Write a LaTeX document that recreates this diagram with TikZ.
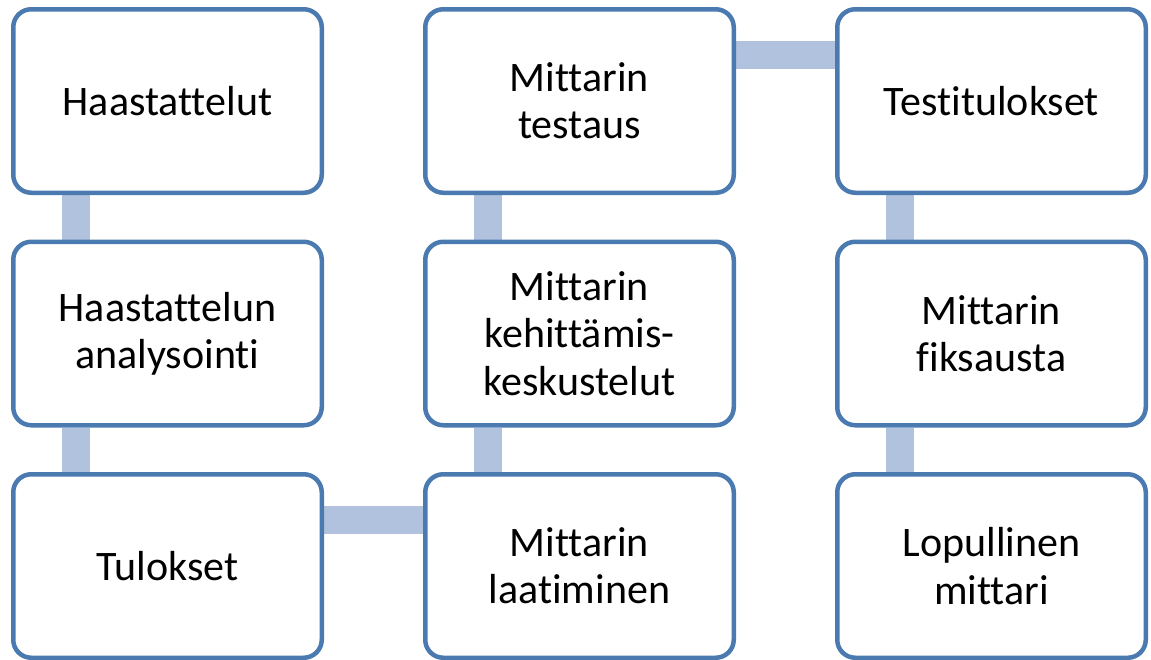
\documentclass[tikz,border=0pt]{standalone}
\usepackage{fontspec}
\setmainfont[Ligatures={NoCommon}]{Carlito}
\usepackage{tikz}
\usetikzlibrary{positioning, backgrounds}
\definecolor{boxblue}{RGB}{74,122,176}
\definecolor{barblue}{RGB}{176,194,221}
\tikzset{
  stage/.style={draw=boxblue, line width=2.25pt, fill=white, rounded corners=9pt,
    minimum width=154.25pt, minimum height=91.75pt, inner sep=0pt, align=center,
    font=\fontsize{21}{23.6}\selectfont},
  link/.style={draw=barblue, line width=14pt}
}

\begin{document}
\begin{tikzpicture}
  \useasboundingbox (0,0) rectangle (575.5pt,-329.5pt);
  	\node[stage] (haast) at (83.75pt,-50.5pt) {Haastattelut};
  	\node[stage, below=22.25pt of haast] (analyysi) {Haastattelun\\analysointi};
  	\node[stage, below=22.25pt of analyysi] (tulokset) {Tulokset};
  	\node[stage, right=49.5pt of tulokset] (laatim) {Mittarin\\laatiminen};
  	\node[stage, above=22.25pt of laatim] (keskust) {Mittarin\\kehittämis-\\keskustelut};
  	\node[stage, above=22.25pt of keskust] (testaus) {Mittarin\\testaus};
  	\node[stage, right=49.5pt of testaus] (testitul) {Testitulokset};
  	\node[stage, below=22.25pt of testitul] (fiksaus) {Mittarin\\fiksausta};
  	\node[stage, below=22.25pt of fiksaus] (lopull) {Lopullinen\\mittari};
		\begin{scope}[on background layer]
  	\draw[link] ([xshift=32.5pt]haast.south west) -- ([xshift=32.5pt]analyysi.north west);
  	\draw[link] ([xshift=32.5pt]analyysi.south west) -- ([xshift=32.5pt]tulokset.north west);
  	\draw[link] ([yshift=-23.75pt]tulokset.north east) -- ([yshift=-23.75pt]laatim.north west);
  	\draw[link] ([xshift=32.5pt]laatim.north west) -- ([xshift=32.5pt]keskust.south west);
  	\draw[link] ([xshift=32.5pt]keskust.north west) -- ([xshift=32.5pt]testaus.south west);
  	\draw[link] ([yshift=-23.75pt]testaus.north east) -- ([yshift=-23.75pt]testitul.north west);
  	\draw[link] ([xshift=32.5pt]testitul.south west) -- ([xshift=32.5pt]fiksaus.north west);
  	\draw[link] ([xshift=32.5pt]fiksaus.south west) -- ([xshift=32.5pt]lopull.north west);
		\end{scope}
  \end{tikzpicture}
\end{document}
